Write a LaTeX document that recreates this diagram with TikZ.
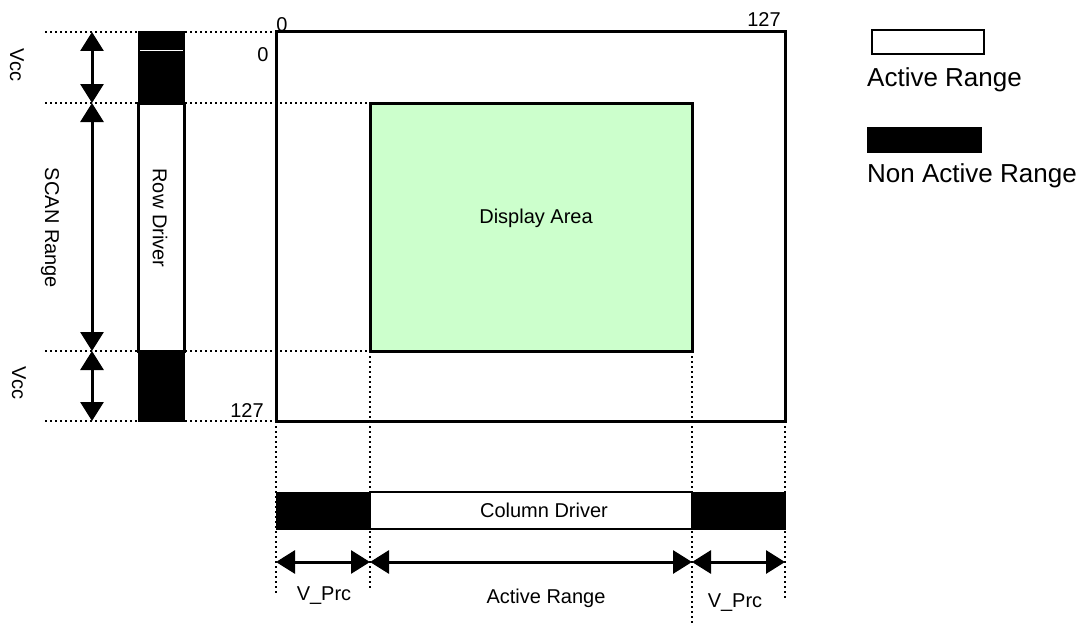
\documentclass[tikz,border=0pt]{standalone}
\usepackage{fontspec}
\setmainfont{Liberation Sans}
\usetikzlibrary{arrows.meta}
\definecolor{dispgreen}{HTML}{CCFFCC}
\begin{document}
\begin{tikzpicture}[x=1pt,y=-1pt,
  txt/.style={font=\fontsize{20}{24}\selectfont, inner sep=0pt},
  bigtxt/.style={font=\fontsize{26}{30}\selectfont, inner sep=0pt},
  wbox/.style={draw=black, fill=white, line width=3pt, inner sep=0pt, outer sep=0pt},
  bbox/.style={draw=black, fill=black, line width=1pt, inner sep=0pt, outer sep=0pt},
  dots/.style={line width=2.2pt, dash pattern=on 2.2pt off 2.8pt},
  dim/.style={line width=3pt, {Triangle[width=23pt,length=19pt]}-{Triangle[width=23pt,length=19pt]}}
]
\useasboundingbox (0,0) rectangle (1087,626);

% dotted guide lines (behind)
\coordinate (l0) at (45,32);
\coordinate (l1) at (45,103);
\coordinate (l2) at (45,351);
\coordinate (l3) at (45,421);
\coordinate (r0) at (276,32);
\coordinate (r1) at (370,103);
\coordinate (r2) at (370,351);
\coordinate (r3) at (276,421);
\draw[dots] (l0) -- (r0);
\draw[dots] (l1) -- (r1);
\draw[dots] (l2) -- (r2);
\draw[dots] (l3) -- (r3);

\coordinate (t0) at (276,421);
\coordinate (t1) at (370,351);
\coordinate (t2) at (692,351);
\coordinate (t3) at (785,421);
\coordinate (b0) at (276,595);
\coordinate (b1) at (370,590);
\coordinate (b2) at (692,623);
\coordinate (b3) at (785,600);
\draw[dots] (t0) -- (b0);
\draw[dots] (t1) -- (b1);
\draw[dots] (t2) -- (b2);
\draw[dots] (t3) -- (b3);

% main frame
\node[wbox, fill=none, minimum width=509pt, minimum height=389pt] (frame) at (530.5,226.5) {};
% display area
\node[wbox, fill=dispgreen, minimum width=322pt, minimum height=248pt] (display) at (531,227) {};
\node[txt, anchor=base] (displabel) at (536,223) {Display Area};

% row driver
\node[bbox, minimum width=46pt, minimum height=71pt] (rowtop) at (161,67.5) {};
\node[wbox, minimum width=46pt, minimum height=248pt] (rowmid) at (161,227) {};
\node[bbox, minimum width=46pt, minimum height=70pt] (rowbot) at (161,386) {};
\draw[white, line width=1pt] (140,51) -- (183,51);
\node[txt, rotate=-90] (rowlabel) at (160,218) {Row Driver};

% column driver
\node[bbox, minimum width=94pt, minimum height=37pt] (colleft) at (323,510.5) {};
\node[wbox, line width=2.2pt, minimum width=322pt, minimum height=37pt] (colmid) at (531,510.5) {};
\node[bbox, minimum width=93pt, minimum height=37pt] (colright) at (738.5,510.5) {};
\node[txt, anchor=base] (collabel) at (544,517) {Column Driver};

% vertical dimension arrows
\coordinate (v0) at (92,32);
\coordinate (v1) at (92,103);
\coordinate (v2) at (92,351);
\coordinate (v3) at (92,421);
\draw[dim] (v0) -- (v1);
\draw[dim] (v1) -- (v2);
\draw[dim] (v2) -- (v3);
\node[txt, rotate=-90] (vcc1) at (17,65) {Vcc};
\node[txt, rotate=-90] (scan) at (50,228) {SCAN Range};
\node[txt, rotate=-90] (vcc2) at (19,383) {Vcc};

% horizontal dimension arrows
\coordinate (h0) at (276,562);
\coordinate (h1) at (370,562);
\coordinate (h2) at (692,562);
\coordinate (h3) at (785,562);
\draw[dim] (h0) -- (h1);
\draw[dim] (h1) -- (h2);
\draw[dim] (h2) -- (h3);
\node[txt, anchor=base] (vprc1) at (324,600) {V\_Prc};
\node[txt, anchor=base] (actr) at (546,603) {Active Range};
\node[txt, anchor=base] (vprc2) at (735,607) {V\_Prc};

% corner numbers
\node[txt, anchor=base] (n0top) at (282,32) {0};
\node[txt, anchor=base] (n0left) at (263,62) {0};
\node[txt, anchor=base] (n127top) at (764,27) {127};
\node[txt, anchor=base] (n127left) at (247,417) {127};

% legend
\node[wbox, line width=2.2pt, minimum width=112pt, minimum height=24pt] (legw) at (928,42) {};
\node[bigtxt, anchor=base west] (legwlabel) at (867,87) {Active Range};
\node[bbox, minimum width=114pt, minimum height=25pt] (legb) at (924,139.5) {};
\node[bigtxt, anchor=base west] (legblabel) at (867,182) {Non Active Range};
\end{tikzpicture}
\end{document}
